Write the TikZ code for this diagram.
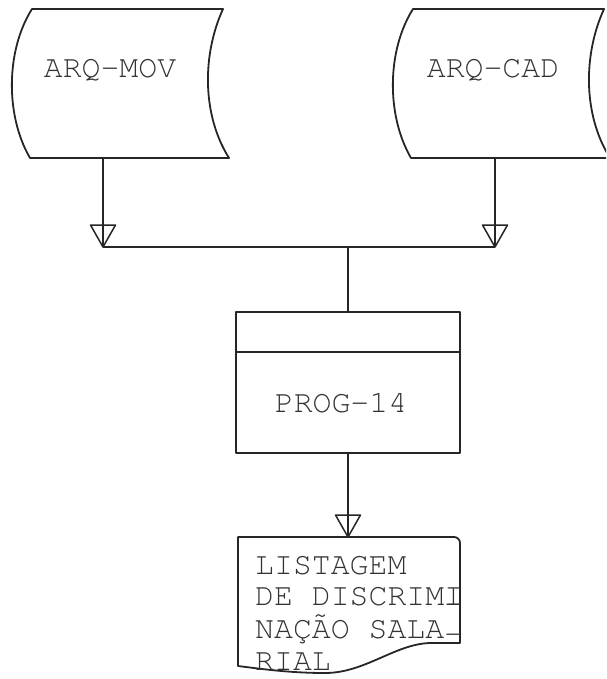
\documentclass[tikz,border=0pt]{standalone}
\usepackage{fontspec}
\begin{document}
\begin{tikzpicture}[x=1pt,y=1pt,line join=round,
  shapeline/.style={line width=1.8pt,draw=black!85},
  conn/.style={line width=1.5pt,draw=black!85},
  lbl/.style={font=\fontencoding{T1}\fontfamily{pcr}\fontseries{m}\fontshape{n}\fontsize{31.5}{32.5}\selectfont,text=black!80,inner sep=0pt},
  otri/.pic={\draw[conn] (-12.5,22) -- (12.5,22) -- (0,0) -- cycle;}]
\useasboundingbox (0,0) rectangle (606,-679);
\clip (0,0) rectangle (606,-679);
% storage shapes
\draw[shapeline] (32,-9) -- (223,-9) .. controls (202,-55) and (202,-115) .. (229,-158) -- (30,-158) .. controls (5,-115) and (6,-50) .. (32,-9) -- cycle;
\draw[shapeline] (413,-9) -- (604,-9) .. controls (583,-55) and (583,-115) .. (610,-158) -- (411,-158) .. controls (386,-115) and (387,-50) .. (413,-9) -- cycle;
\node[lbl,anchor=base] (mov) at (110,-78) {ARQ-MOV};
\node[lbl,anchor=base] (cad) at (493,-78) {ARQ-CAD};
% process box
\node[shapeline,draw,minimum width=224pt,minimum height=141pt,inner sep=0pt] (prog) at (348,-382.5) {};
\draw[shapeline] (prog.west |- 0,-352) -- (prog.east |- 0,-352);
\node[lbl,anchor=base] (progt) at (341,-412) {PROG-14};
% document
\draw[shapeline] (238,-537) -- (454,-537) arc[start angle=90,end angle=0,radius=6] -- (460,-643) -- (430,-643) .. controls (395,-644) and (365,-673) .. (325,-673) .. controls (290,-673) and (262,-669) .. (238,-666) -- cycle;
\node[lbl,anchor=base west,align=left] (lst1) at (255,-574) {LISTAGEM};
\node[lbl,anchor=base west,align=left] (lst2) at (255,-605) {DE DISCRIMI\llap{\smash{\raisebox{-8pt}{-}}}};
\node[lbl,anchor=base west,align=left] (lst3) at (255,-638) {NA\c{C}\~{A}O SALA\smash{\raisebox{-5pt}{-}}};
\node[lbl,anchor=base west,align=left] (lst4) at (255,-670) {RIAL};
% connectors
\coordinate (movout) at (103,-158);
\coordinate (j1) at (103,-247);
\coordinate (cadout) at (495,-158);
\coordinate (j2) at (495,-247);
\coordinate (jc) at (348,-247);
\coordinate (doctop) at (348,-537);
\draw[conn] (movout) -- (j1);
\draw[conn] (cadout) -- (j2);
\draw[conn] (j1) -- (j2);
\draw[conn] (jc) -- (prog.north);
\draw[conn] (prog.south) -- (doctop);
\pic at (j1) {otri};
\pic at (j2) {otri};
\pic at (doctop) {otri};
\end{tikzpicture}
\end{document}
